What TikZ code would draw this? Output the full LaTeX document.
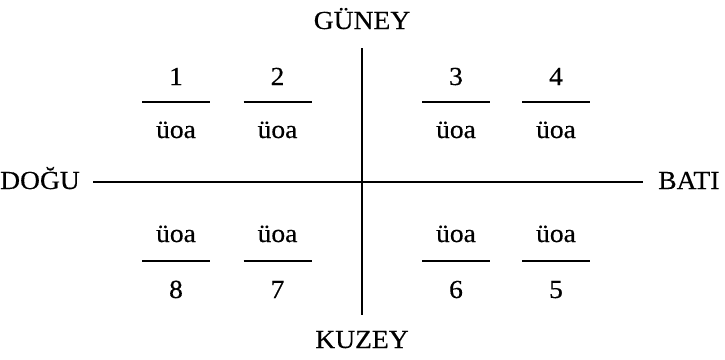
\documentclass[tikz,border=0pt]{standalone}
\usepackage{fontspec}
\setmainfont{Liberation Serif}[FakeStretch=1.06,FakeBold=0.4]
\begin{document}
\begin{tikzpicture}[x=1pt,y=-1pt,
  lbl/.style={inner sep=0pt,anchor=base,font=\fontsize{26}{31}\selectfont},
  rule/.style={line width=1.2pt}]
\useasboundingbox (0,0) rectangle (725,359);
\node[lbl] (guney) at (362,29) {GÜNEY};
\node[lbl] (kuzey) at (362,348) {KUZEY};
\node[lbl,anchor=base east] (dogu) at (80,189) {DOĞU};
\node[lbl,anchor=base west] (bati) at (658,189) {BATI};
\coordinate (vt) at (362,48);
\coordinate (vb) at (362,315);
\coordinate (hl) at (93,182);
\coordinate (hr) at (643,182);
\draw[rule] (vt) -- (vb);
\draw[rule] (hl) -- (hr);
\foreach \n/\x in {1/176,2/277.5,3/456,4/556}{
  \node[lbl] (t\n) at (\x,85) {\n};
  \coordinate (tl\n) at (\x-34,102);
  \coordinate (tr\n) at (\x+34,102);
  \draw[rule] (tl\n) -- (tr\n);
  \node[lbl] (tu\n) at (\x,138) {üoa};
}
\foreach \n/\x in {8/176,7/277.5,6/456,5/556}{
  \node[lbl] (bu\n) at (\x,242) {üoa};
  \coordinate (bl\n) at (\x-34,261);
  \coordinate (br\n) at (\x+34,261);
  \draw[rule] (bl\n) -- (br\n);
  \node[lbl] (b\n) at (\x,298) {\n};
}
\end{tikzpicture}
\end{document}
